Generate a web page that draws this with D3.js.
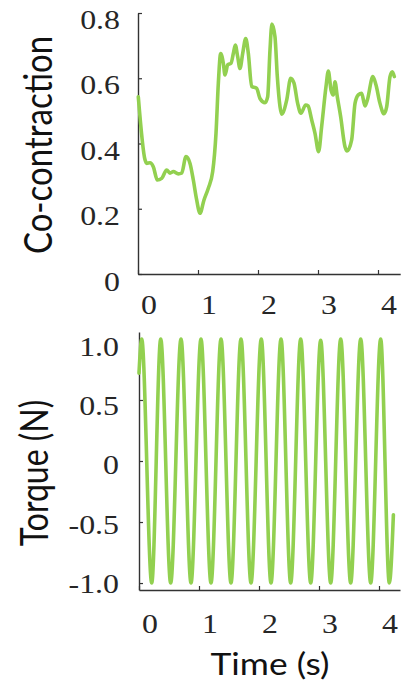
<!DOCTYPE html>
<html>
<head>
<meta charset="utf-8">
<script src="https://cdn.jsdelivr.net/npm/d3@7/dist/d3.min.js"></script>
<style>
  html, body { margin: 0; padding: 0; background: #fff; }
  svg { display: block; }
</style>
</head>
<body>
<svg id="chart" width="405" height="688"></svg>
<script>
// Co-contraction index over time
const coTime = [0.005, 0.117, 0.145, 0.2, 0.255, 0.322, 0.395, 0.478, 0.533, 0.589, 0.672, 0.728, 0.8, 0.867, 0.922, 0.978, 1.033, 1.1, 1.172, 1.245, 1.3, 1.339, 1.378, 1.422, 1.45, 1.495, 1.55, 1.589, 1.622, 1.661, 1.7, 1.745, 1.795, 1.839, 1.895, 1.939, 1.978, 2.033, 2.117, 2.161, 2.2, 2.232, 2.283, 2.322, 2.367, 2.395, 2.478, 2.545, 2.6, 2.661, 2.715, 2.795, 2.835, 2.895, 2.95, 3.01, 3.061, 3.133, 3.172, 3.217, 3.255, 3.283, 3.322, 3.378, 3.45, 3.485, 3.561, 3.617, 3.672, 3.728, 3.783, 3.822, 3.915, 3.967, 4.033, 4.1, 4.145, 4.2, 4.239, 4.272];
const coValue = [0.543, 0.35, 0.339, 0.341, 0.329, 0.288, 0.293, 0.319, 0.309, 0.314, 0.307, 0.309, 0.36, 0.339, 0.288, 0.227, 0.186, 0.227, 0.263, 0.314, 0.431, 0.585, 0.676, 0.646, 0.61, 0.641, 0.646, 0.676, 0.702, 0.666, 0.63, 0.676, 0.722, 0.676, 0.574, 0.572, 0.569, 0.538, 0.525, 0.543, 0.687, 0.766, 0.727, 0.605, 0.513, 0.49, 0.533, 0.6, 0.585, 0.523, 0.493, 0.518, 0.515, 0.472, 0.431, 0.375, 0.452, 0.574, 0.622, 0.564, 0.549, 0.589, 0.543, 0.482, 0.39, 0.377, 0.411, 0.523, 0.549, 0.554, 0.515, 0.533, 0.605, 0.579, 0.523, 0.491, 0.513, 0.605, 0.62, 0.605];

// Torque: start, alternating peaks and troughs, end
const torqueTime = [0, 0.045, 0.212, 0.362, 0.528, 0.700, 0.867, 1.033, 1.2, 1.367, 1.533, 1.700, 1.867, 2.038, 2.2, 2.367, 2.528, 2.695, 2.862, 3.028, 3.195, 3.362, 3.528, 3.695, 3.862, 4.028, 4.172, 4.24];
const torqueValue = [0.72, 1.0, -1.0, 1.0, -1.0, 1.0, -1.0, 1.0, -1.0, 1.0, -1.0, 1.0, -1.0, 1.0, -1.0, 1.0, -1.0, 1.0, -1.0, 0.99, -1.0, 1.0, -1.0, 1.0, -1.0, 1.0, -1.0, -0.44];

const timeTicks = [0, 1, 2, 3, 4];
const timeTickLabels = ["0", "1", "2", "3", "4"];
const coTicks = [0, 0.2, 0.4, 0.6, 0.8];
const coTickLabels = ["0", "0.2", "0.4", "0.6", "0.8"];
const torqueTicks = [-1, -0.5, 0, 0.5, 1];
const torqueTickLabels = ["-1.0", "-0.5", "0", "0.5", "1.0"];

const lineColor = "#92d050";
const axisColor = "#333";
const textColor = "#262626";
const serif = "'Liberation Serif', 'Times New Roman', serif";
const sans = "Lato, 'Open Sans', sans-serif";
const stretch = 1.18;

const svg = d3.select("#chart");

function panel(opts) {
  const g = svg.append("g");
  const x = d3.scaleLinear().domain(opts.xDomain).range(opts.xRange);
  const y = d3.scaleLinear().domain(opts.yDomain).range(opts.yRange);

  const xAxis = g.append("g")
    .attr("transform", `translate(0,${opts.yRange[0]})`)
    .call(d3.axisBottom(x).tickValues(timeTicks).tickSizeInner(-4).tickSizeOuter(0).tickFormat(""));
  const yAxis = g.append("g")
    .attr("transform", `translate(${opts.xRange[0]},0)`)
    .call(d3.axisLeft(y).tickValues(opts.yTicks).tickSizeInner(-4).tickSizeOuter(0).tickFormat(""));
  [xAxis, yAxis].forEach(a => {
    a.select(".domain").attr("stroke", axisColor).attr("stroke-width", 1.4);
    a.selectAll(".tick line").attr("stroke", axisColor).attr("stroke-width", 1.2);
  });

  // y tick labels
  g.selectAll(".ylab").data(opts.yTicks).join("text")
    .attr("transform", (d) => `translate(${opts.yLabelRight},${opts.yLabelPos(d)}) scale(${stretch},1)`)
    .attr("text-anchor", "end")
    .attr("dy", "0.33em")
    .attr("font-family", serif)
    .attr("font-size", 27)
    .attr("fill", textColor)
    .text((d, i) => opts.yTickLabels[i]);

  // x tick labels
  g.selectAll(".xlab").data(timeTicks).join("text")
    .attr("transform", (d) => `translate(${x(d) + 11},${opts.xLabelY}) scale(${stretch},1)`)
    .attr("text-anchor", "middle")
    .attr("dy", "0.33em")
    .attr("font-family", serif)
    .attr("font-size", 27)
    .attr("fill", textColor)
    .text((d, i) => timeTickLabels[i]);

  const line = d3.line()
    .x((d, i) => x(opts.t[i]))
    .y((d) => y(d))
    .curve(d3.curveMonotoneX);
  g.append("path")
    .datum(opts.v)
    .attr("d", line)
    .attr("fill", "none")
    .attr("stroke", lineColor)
    .attr("stroke-width", 3.6)
    .attr("stroke-linejoin", "round")
    .attr("stroke-linecap", "round");

  // y title
  g.append("text")
    .attr("transform", `translate(${opts.titleX},${opts.titleY}) scale(${stretch},1) rotate(-90)`)
    .attr("text-anchor", "middle")
    .attr("font-family", sans)
    .attr("font-size", opts.titleSize)
    .attr("fill", "#111")
    .text(opts.title);
  return { x, y };
}

panel({
  xDomain: [0, 4.37], xRange: [138, 400.2],
  yDomain: [0, 0.8], yRange: [274, 13],
  yTicks: coTicks, yTickLabels: coTickLabels,
  yLabelRight: 120, yLabelPos: (v) => 282 - 327.5 * v,
  xLabelY: 305,
  t: coTime, v: coValue,
  title: "Co-contraction", titleX: 52, titleY: 145, titleSize: 33
});

panel({
  xDomain: [0, 4.35], xRange: [139, 400],
  yDomain: [-1.057, 1.057], yRange: [590, 332],
  yTicks: torqueTicks, yTickLabels: torqueTickLabels,
  yLabelRight: 119, yLabelPos: (v) => 465.5 - 118.5 * v,
  xLabelY: 624,
  t: torqueTime, v: torqueValue,
  title: "Torque (N)", titleX: 48, titleY: 473, titleSize: 32
});

svg.append("text")
  .attr("transform", `translate(270,675) scale(${stretch},1)`)
  .attr("text-anchor", "middle")
  .attr("font-family", sans)
  .attr("font-size", 30)
  .attr("fill", "#111")
  .text("Time (s)");
</script>
</body>
</html>
